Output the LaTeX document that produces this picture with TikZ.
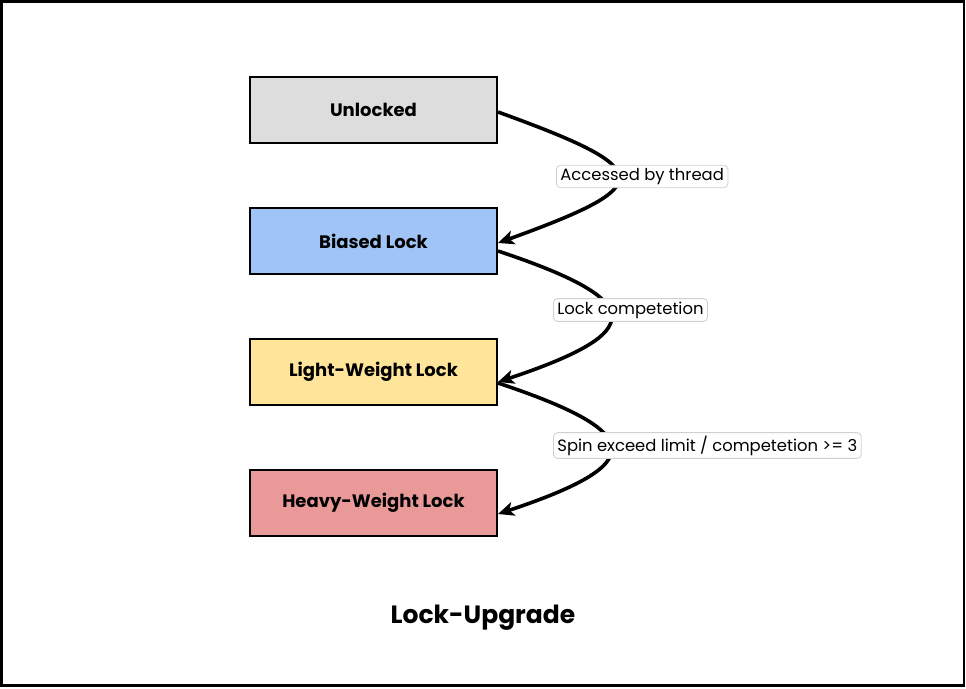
\documentclass[tikz,border=0pt]{standalone}
\usepackage{fontspec}
\setmainfont{Poppins}
\usetikzlibrary{arrows.meta}
\definecolor{cgray}{HTML}{DDDDDD}
\definecolor{cblue}{HTML}{A0C4F6}
\definecolor{cyellow}{HTML}{FFE59A}
\definecolor{cred}{HTML}{EA9999}
\definecolor{lblborder}{HTML}{D0D0D0}
\tikzset{
  state/.style={draw=black, line width=2pt, minimum width=247pt, minimum height=66pt,
    inner sep=0pt, font=\fontsize{18}{21}\selectfont\bfseries},
  conn/.style={line width=3.6pt, -{Stealth[length=16pt,width=14pt,inset=4pt]}},
  lbl/.style={draw=lblborder, fill=white, rounded corners=4pt, line width=0.8pt,
    inner xsep=4pt, inner ysep=3pt, anchor=west, font=\fontsize{16.4}{19}\selectfont},
}
\begin{document}
\begin{tikzpicture}[x=1pt,y=-1pt]
\useasboundingbox (0,0) rectangle (966,688);
\draw[line width=2.6pt] (1.5,1.5) rectangle (964,685.5);
\node[state, fill=cgray] (u) at (373.5,110) {\raisebox{-1.5pt}{Unlocked}};
\node[state, fill=cblue] (b) at (373.5,241) {\raisebox{-1.5pt}{Biased Lock}};
\node[state, fill=cyellow] (l) at (373.5,372) {\raisebox{-1.5pt}{Light-Weight Lock}};
\node[state, fill=cred] (h) at (373.5,503) {\raisebox{-1.5pt}{Heavy-Weight Lock}};
\draw[conn] ([yshift=-2pt]u.east) .. controls +(160,58) and +(160,-58) .. ([yshift=-2pt]b.east);
\draw[conn] ([yshift=-10pt]b.east) .. controls +(150,50) and +(150,-50) .. ([yshift=-10pt]l.east);
\draw[conn] ([yshift=-11pt]l.east) .. controls +(150,50) and +(150,-50) .. ([yshift=-11pt]h.east);
\node[lbl] (t1) at (556,176.5) {Accessed by thread};
\node[lbl] (t2) at (553,310) {Lock competetion};
\node[lbl] (t3) at (553,445.5) {Spin exceed limit / competetion >= 3};
\node[font=\fontsize{25}{29}\selectfont\bfseries] (title) at (483,618) {Lock-Upgrade};
\end{tikzpicture}
\end{document}
